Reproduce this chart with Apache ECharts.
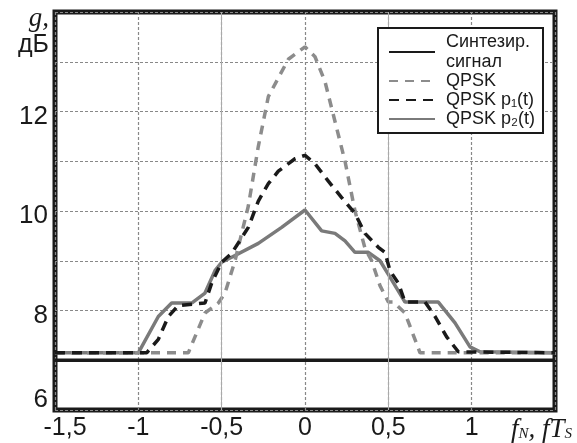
<!doctype html>
<html lang="ru">

<head>
    <meta charset="utf-8">
    <title>g(f)</title>
    <script src="https://cdn.jsdelivr.net/npm/echarts@6/dist/echarts.min.js"></script>
    <style>
        html, body { margin: 0; padding: 0; background: #fff; }
        #chart { width: 577px; height: 443px; }
    </style>
</head>

<body>
    <div id="chart"></div>
    <script type="text/javascript">
        // значения
        var synthX = [-1.5, 1.5];
        var synthY = [7.0, 7.0];

        var qpskX = [-1.5, -0.7, -0.6, -0.52, -0.48, -0.42, -0.34, -0.28, -0.22, -0.1, 0, 0.06, 0.12, 0.18, 0.24, 0.3, 0.36, 0.4, 0.45, 0.5, 0.53, 0.6, 0.69, 1.5];
        var qpskY = [7.15, 7.15, 7.95, 8.15, 8.35, 9.0, 10.1, 11.3, 12.3, 13.05, 13.3, 13.1, 12.6, 11.8, 11.0, 10.0, 9.25, 9.0, 8.5, 8.17, 8.17, 7.95, 7.15, 7.15];

        var p1X = [-1.5, -0.95, -0.88, -0.82, -0.76, -0.6, -0.56, -0.5, -0.44, -0.34, -0.28, -0.22, -0.16, -0.06, 0, 0.06, 0.14, 0.22, 0.3, 0.36, 0.44, 0.48, 0.51, 0.56, 0.6, 0.72, 0.78, 0.85, 0.92, 1.5];
        var p1Y = [7.15, 7.15, 7.42, 7.88, 8.1, 8.15, 8.55, 8.97, 9.15, 9.67, 10.2, 10.55, 10.8, 11.05, 11.12, 10.95, 10.6, 10.27, 9.95, 9.55, 9.27, 9.17, 8.8, 8.55, 8.17, 8.17, 7.88, 7.47, 7.17, 7.15];

        var p2X = [-1.5, -1.0, -0.88, -0.8, -0.68, -0.6, -0.54, -0.5, -0.44, -0.28, -0.14, 0, 0.1, 0.18, 0.24, 0.3, 0.38, 0.45, 0.51, 0.6, 0.8, 0.9, 0.99, 1.05, 1.5];
        var p2Y = [7.15, 7.15, 7.88, 8.15, 8.15, 8.35, 8.8, 8.97, 9.07, 9.35, 9.67, 10.02, 9.6, 9.55, 9.4, 9.17, 9.17, 9.0, 8.67, 8.17, 8.17, 7.75, 7.27, 7.17, 7.15];

        var yLabels = [6, 8, 10, 12];
        var solidGridX = [-0.5, 0.5];

        var names = ['Синтезир.\nсигнал', 'QPSK', 'QPSK p\u2081(t)', 'QPSK p\u2082(t)'];

        function zip(xs, ys) {
            return xs.map(function (x, i) { return [x, ys[i]]; });
        }

        var chart = echarts.init(document.getElementById('chart'));
        var option = {
            animation: false,
            grid: {
                left: 55, right: 22, top: 12, bottom: 33,
                show: true,
                borderColor: '#1a1a1a',
                borderWidth: 5
            },
            legend: {
                orient: 'vertical',
                left: 378,
                top: 28,
                data: names,
                itemWidth: 46,
                itemHeight: 14,
                itemGap: -1,
                padding: [4, 8, 4, 10],
                backgroundColor: '#fff',
                borderColor: '#1a1a1a',
                borderWidth: 2,
                z: 10,
                itemStyle: { opacity: 0 },
                textStyle: {
                    fontFamily: 'Liberation Sans, Arial, sans-serif',
                    fontSize: 18,
                    lineHeight: 20,
                    color: '#1a1a1a',
                    padding: [0, 0, 0, 6]
                }
            },
            xAxis: {
                type: 'value',
                min: -1.5,
                max: 1.5,
                interval: 0.5,
                name: '{i|f}{s|N}{i|, fT}{s|S}',
                nameLocation: 'end',
                nameGap: 17,
                nameTextStyle: {
                    align: 'right',
                    verticalAlign: 'top',
                    padding: [6, 0, 0, 0],
                    rich: {
                        i: { fontFamily: 'Liberation Serif, Times New Roman, serif', fontStyle: 'italic', fontSize: 27, color: '#1a1a1a' },
                        s: { fontFamily: 'Liberation Serif, Times New Roman, serif', fontStyle: 'italic', fontSize: 15, color: '#1a1a1a', padding: [10, 0, 0, 0] }
                    }
                },
                axisLine: { show: false, onZero: false },
                axisTick: { show: false },
                axisLabel: {
                    margin: 6,
                    fontFamily: 'Liberation Sans, Arial, sans-serif',
                    fontSize: 25,
                    color: '#1a1a1a',
                    formatter: function (v) {
                        if (v >= 1.5) return '';
                        var s = String(v).replace('.', ',');
                        return v === -1.5 ? '{f|' + s + '}' : s;
                    },
                    rich: {
                        f: { fontFamily: 'Liberation Sans, Arial, sans-serif', fontSize: 25, color: '#1a1a1a', padding: [0, 0, 0, 20] }
                    }
                },
                splitLine: {
                    show: true,
                    lineStyle: { color: '#888', width: 1.2, type: [3, 2] }
                }
            },
            yAxis: {
                type: 'value',
                min: 6,
                max: 14,
                interval: 1,
                name: '{g|g,}\n{u|дБ}',
                nameLocation: 'end',
                nameGap: 6,
                nameTextStyle: {
                    align: 'right',
                    verticalAlign: 'top',
                    padding: [0, 6, 0, 0],
                    rich: {
                        g: { fontFamily: 'Liberation Serif, Times New Roman, serif', fontStyle: 'italic', fontSize: 27, color: '#1a1a1a', lineHeight: 26, align: 'right' },
                        u: { fontFamily: 'Liberation Sans, Arial, sans-serif', fontSize: 25, color: '#1a1a1a', lineHeight: 26, align: 'right' }
                    }
                },
                axisLine: { show: false, onZero: false },
                axisTick: { show: false },
                axisLabel: {
                    margin: 7,
                    fontFamily: 'Liberation Sans, Arial, sans-serif',
                    fontSize: 26,
                    color: '#1a1a1a',
                    formatter: function (v) {
                        if (yLabels.indexOf(v) < 0) return '';
                        return v === 6 ? '{b|' + v + '}' : '{a|' + v + '}';
                    },
                    rich: {
                        a: { fontFamily: 'Liberation Sans, Arial, sans-serif', fontSize: 26, color: '#1a1a1a', padding: [10, 0, 0, 0] },
                        b: { fontFamily: 'Liberation Sans, Arial, sans-serif', fontSize: 26, color: '#1a1a1a', padding: [0, 0, 20, 0] }
                    }
                },
                splitLine: {
                    show: true,
                    lineStyle: { color: '#888', width: 1.2, type: [3, 2] }
                }
            },
            series: [{
                name: names[0],
                type: 'line',
                data: zip(synthX, synthY),
                symbol: 'none',
                lineStyle: { color: '#1a1a1a', width: 3.5 },
                itemStyle: { color: '#1a1a1a' },
                z: 3,
                markLine: {
                    silent: true,
                    symbol: 'none',
                    label: { show: false },
                    lineStyle: { color: '#aaa', width: 1, type: 'solid' },
                    data: solidGridX.map(function (x) { return { xAxis: x }; })
                }
            }, {
                name: names[1],
                type: 'line',
                data: zip(qpskX, qpskY),
                symbol: 'none',
                lineStyle: { color: '#8c8c8c', width: 3.5, type: [9, 7] },
                itemStyle: { color: '#8c8c8c' },
                z: 4
            }, {
                name: names[2],
                type: 'line',
                data: zip(p1X, p1Y),
                symbol: 'none',
                lineStyle: { color: '#1a1a1a', width: 3.5, type: [10, 7] },
                itemStyle: { color: '#1a1a1a' },
                z: 5
            }, {
                name: names[3],
                type: 'line',
                data: zip(p2X, p2Y),
                symbol: 'none',
                lineStyle: { color: '#7a7a7a', width: 3.5 },
                itemStyle: { color: '#7a7a7a' },
                z: 3
            }]
        };
        chart.setOption(option);
    </script>
</body>

</html>
